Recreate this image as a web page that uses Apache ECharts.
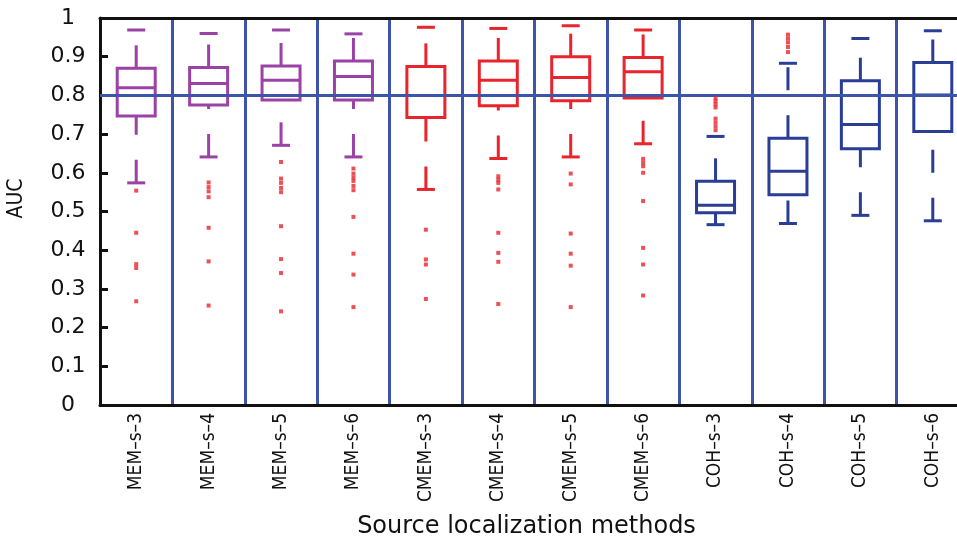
<!DOCTYPE html>
<html><head><meta charset="utf-8">
<script src="https://cdn.jsdelivr.net/npm/echarts@6/dist/echarts.min.js"></script>
<style>html,body{margin:0;padding:0;background:#fff;overflow:hidden}#c{width:957px;height:541px}</style>
</head><body><div id="c"></div>
<script>
// ---- data ----
const categories = ['MEM–s–3','MEM–s–4','MEM–s–5','MEM–s–6','CMEM–s–3','CMEM–s–4','CMEM–s–5','CMEM–s–6','COH–s–3','COH–s–4','COH–s–5','COH–s–6'];
const upperWhisker = [0.969, 0.960, 0.969, 0.959, 0.976, 0.973, 0.980, 0.969, 0.694, 0.883, 0.947, 0.967];
const q3Values     = [0.870, 0.872, 0.876, 0.889, 0.875, 0.889, 0.900, 0.898, 0.578, 0.689, 0.838, 0.885];
const medians      = [0.820, 0.831, 0.839, 0.849, 0.800, 0.839, 0.846, 0.861, 0.516, 0.604, 0.725, 0.801];
const q1Values     = [0.747, 0.775, 0.788, 0.788, 0.743, 0.773, 0.786, 0.793, 0.497, 0.543, 0.662, 0.707];
const lowerWhisker = [0.574, 0.641, 0.671, 0.641, 0.557, 0.637, 0.641, 0.675, 0.466, 0.469, 0.490, 0.476];
const outliers = [
  [0.554, 0.445, 0.364, 0.354, 0.268],
  [0.575, 0.563, 0.552, 0.537, 0.458, 0.371, 0.257],
  [0.628, 0.585, 0.574, 0.561, 0.550, 0.462, 0.377, 0.341, 0.242],
  [0.611, 0.598, 0.588, 0.579, 0.566, 0.555, 0.486, 0.391, 0.337, 0.253],
  [0.453, 0.376, 0.363, 0.274],
  [0.591, 0.582, 0.574, 0.557, 0.445, 0.393, 0.370, 0.261],
  [0.598, 0.570, 0.443, 0.391, 0.360, 0.253],
  [0.636, 0.626, 0.617, 0.600, 0.527, 0.406, 0.363, 0.283],
  [0.793, 0.785, 0.777, 0.769, 0.740, 0.730, 0.720, 0.710],
  [0.957, 0.947, 0.937, 0.925, 0.912],
  [],
  []
];
const referenceLevel = 0.8;
const xAxisTitle = 'Source localization methods';
const yAxisTitle = 'AUC';

// ---- styles ----
const groupColors = { MEM: '#9b42a6', CMEM: '#e8242c', COH: '#2b3e96' };
const outlierColor = '#e8242c';
const guideBlue = '#3d55a8';
function colorOf(name) { return groupColors[name.split('–')[0]]; }

const boxData = categories.map((c, i) => [i, lowerWhisker[i], q1Values[i], medians[i], q3Values[i], upperWhisker[i]]);
const outlierData = [];
outliers.forEach((arr, i) => arr.forEach(v => outlierData.push([i, v])));

const chart = echarts.init(document.getElementById('c'));
const axisBlack = '#111';
const narrowFont = "'Liberation Sans Narrow','DejaVu Sans Condensed','Noto Sans',sans-serif";
chart.setOption({
  animation: false,
  backgroundColor: '#fff',
  grid: { left: 100, top: 18, width: 869, height: 387, outerBoundsMode: 'none', containLabel: false },
  xAxis: [{
    type: 'category', data: categories, boundaryGap: true, position: 'bottom',
    axisLine: { lineStyle: { color: axisBlack, width: 3 } },
    axisTick: { inside: true, alignWithLabel: true, length: 6, lineStyle: { color: axisBlack, width: 3 } },
    axisLabel: { rotate: 90, margin: 8, fontSize: 19, color: '#111', fontFamily: narrowFont, interval: 0 },
    splitLine: { show: true, interval: 0, lineStyle: { color: guideBlue, width: 3 } },
    name: xAxisTitle, nameLocation: 'middle', nameGap: 110,
    nameTextStyle: { fontSize: 24, color: '#111', fontFamily: "'DejaVu Sans',sans-serif", padding: [0, 16, 0, 0] }
  }, {
    type: 'category', data: categories, boundaryGap: true, position: 'top',
    axisLine: { lineStyle: { color: axisBlack, width: 3 } },
    axisTick: { inside: true, alignWithLabel: true, length: 6, lineStyle: { color: axisBlack, width: 3 } },
    axisLabel: { show: false }, splitLine: { show: false }
  }],
  yAxis: {
    type: 'value', min: 0, max: 1, interval: 0.1,
    axisLine: { show: true, lineStyle: { color: axisBlack, width: 3 } },
    axisTick: { show: true, inside: true, length: 8, lineStyle: { color: axisBlack, width: 3 } },
    axisLabel: { align: 'center', margin: 32, fontSize: 22, color: '#111', fontFamily: "'DejaVu Sans',sans-serif" },
    splitLine: { show: false },
    name: yAxisTitle, nameLocation: 'middle', nameGap: 73, nameRotate: 90,
    nameTextStyle: { fontSize: 21, color: '#111', fontFamily: narrowFont, padding: [0, 0, 0, 26] }
  },
  series: [{
    type: 'custom', z: 2,
    encode: { x: 0, y: [1, 2, 3, 4, 5] },
    data: boxData,
    renderItem: function (params, api) {
      const i = api.value(0);
      const x = api.coord([i, 0])[0];
      const yl = api.coord([i, api.value(1)])[1];
      const yq1 = api.coord([i, api.value(2)])[1];
      const ym = api.coord([i, api.value(3)])[1];
      const yq3 = api.coord([i, api.value(4)])[1];
      const yu = api.coord([i, api.value(5)])[1];
      const color = colorOf(categories[i]);
      const hw = 19, cw = 9;
      const solid = { stroke: color, lineWidth: 3, fill: null };
      const dashed = { stroke: color, lineWidth: 3, lineDash: [23, 25], fill: null };
      return {
        type: 'group', children: [
          { type: 'line', shape: { x1: x, y1: yl, x2: x, y2: yq1 }, style: dashed },
          { type: 'line', shape: { x1: x, y1: yq3, x2: x, y2: yu }, style: dashed },
          { type: 'line', shape: { x1: x - cw, y1: yl, x2: x + cw, y2: yl }, style: solid },
          { type: 'line', shape: { x1: x - cw, y1: yu, x2: x + cw, y2: yu }, style: solid },
          { type: 'rect', shape: { x: x - hw, y: yq3, width: 2 * hw, height: yq1 - yq3 }, style: { stroke: color, lineWidth: 3, fill: 'rgba(0,0,0,0)' } },
          { type: 'line', shape: { x1: x - hw, y1: ym, x2: x + hw, y2: ym }, style: solid }
        ]
      };
    }
  }, {
    type: 'scatter', z: 5, data: outlierData,
    symbol: 'rect', symbolSize: [4, 4],
    itemStyle: { color: outlierColor },
    markLine: {
      silent: true, symbol: ['none', 'none'], label: { show: false },
      lineStyle: { color: guideBlue, width: 3, type: 'solid' },
      data: [{ yAxis: referenceLevel }]
    }
  }]
});
</script></body></html>
